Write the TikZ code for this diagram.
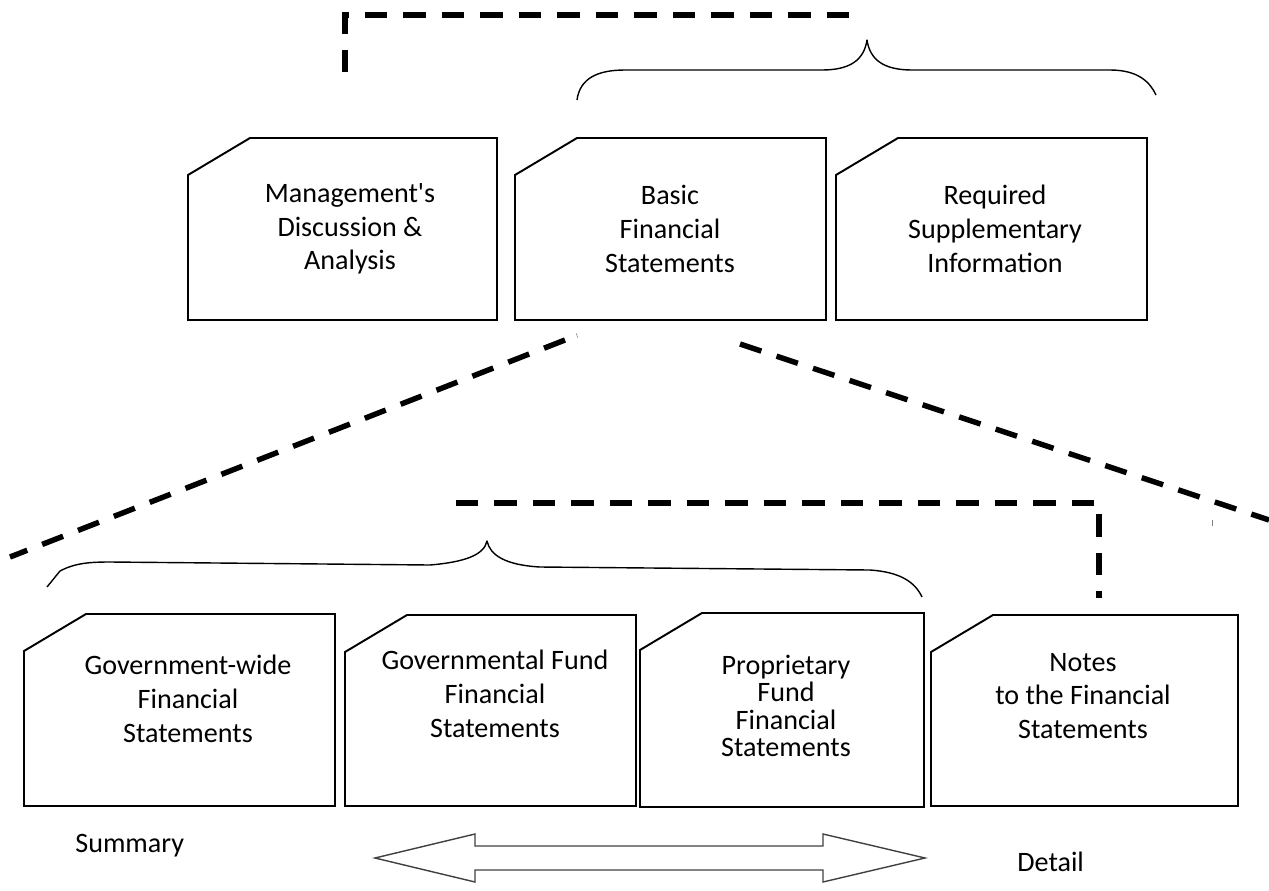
\documentclass[tikz,border=0pt]{standalone}
\usepackage{fontspec}
\setmainfont{Carlito}
\usetikzlibrary{calc}

\begin{document}
\begin{tikzpicture}[x=0.02cm, y=-0.02cm,
  boxline/.style={line width=1.1pt, black},
  doclabel/.style={align=center, inner sep=0pt, font=\fontsize{16}{19.2}\selectfont},
  bigdash/.style={line width=3.1pt, dash pattern=on 0.45cm off 0.32cm},
  brace/.style={line width=0.8pt, line join=round},
  fatarrow/.style={line width=0.8pt, black!75}]
  \useasboundingbox (0,0) rectangle (1269,890);

  % document box with clipped upper left corner
  \def\docbox#1#2#3#4{
    \draw[boxline] (#1+62,#2) -- (#3,#2) -- (#3,#4) -- (#1,#4) -- (#1,#2+37) -- cycle;
  }

  % Top row
  \docbox{188}{138}{497}{320}
  \docbox{515}{138}{826}{320}
  \docbox{836}{138}{1147}{320}
  \node[doclabel] (mda) at (350,229) {Management\textquotesingle s\\Discussion \&\\Analysis};
  \node[doclabel] (bfs) at (670,229) {Basic\\Financial\\Statements};
  \node[doclabel] (rsi) at (995,229) {Required\\Supplementary\\Information};

  % Bottom row
  \docbox{24}{614}{335}{806}
  \docbox{345}{615}{636}{806}
  \docbox{640}{613}{924}{807}
  \docbox{931}{615}{1238}{806}
  \node[doclabel] (gwfs) at (188,699) {Government-wide\\Financial\\Statements};
  \node[doclabel] (gffs) at (495,694) {Governmental Fund\\Financial\\Statements};
  \node[doclabel, font=\fontsize{16}{15.5}\selectfont] (pffs) at (786,706) {Proprietary\\Fund\\Financial\\Statements};
  \node[doclabel] (nfs) at (1083,696) {Notes\\to the Financial\\Statements};

  % Dashed leaders
  \coordinate (mdaTop) at (345,72);
  \coordinate (topBend) at (345,15);
  \coordinate (braceTop) at (852,15);
  \draw[bigdash] (mdaTop) -- (topBend) -- (braceTop);
  \coordinate (bfsLeft) at (565,340);
  \coordinate (leftEdge) at (10,557);
  \draw[bigdash] (bfsLeft) -- (leftEdge);
  \coordinate (bfsRight) at (740,344);
  \coordinate (rightEdge) at (1269,520);
  \draw[bigdash] (bfsRight) -- (rightEdge);
  \coordinate (midStart) at (456,503);
  \coordinate (midBend) at (1099,503);
  \coordinate (nfsTop) at (1099,598);
  \draw[bigdash] (midStart) -- (midBend) -- (nfsTop);

  % Braces
  \draw[brace] (577,100) .. controls (580,78) and (598,70) .. (625,70) -- (822,70)
    .. controls (850,70) and (864,60) .. (867,40) .. controls (870,60) and (884,70) .. (912,70)
    -- (1110,70) .. controls (1138,70) and (1150,82) .. (1156,95);
  \draw[brace] (47,587) -- (60,571) .. controls (75,563) and (90,562) .. (110,562) -- (430,565)
    .. controls (465,562) and (484,555) .. (487,541) .. controls (490,555) and (505,565) .. (540,567)
    -- (870,570) .. controls (900,572) and (915,582) .. (922,597);

  % stray marks
  \draw[gray, line width=0.3pt] (576,333) -- (578,338);
  \draw[gray, line width=0.4pt] (1212,520) -- (1212,526);

  % Summary <-> Detail
  \draw[fatarrow] (375,858) -- (475,834) -- (475,846) -- (823,846) -- (823,834) -- (925,858)
    -- (823,882) -- (823,870) -- (475,870) -- (475,882) -- cycle;
  \node[doclabel, anchor=west] (summary) at (75,846) {Summary};
  \node[doclabel, anchor=west] (detail) at (1017,862) {Detail};
\end{tikzpicture}
\end{document}
